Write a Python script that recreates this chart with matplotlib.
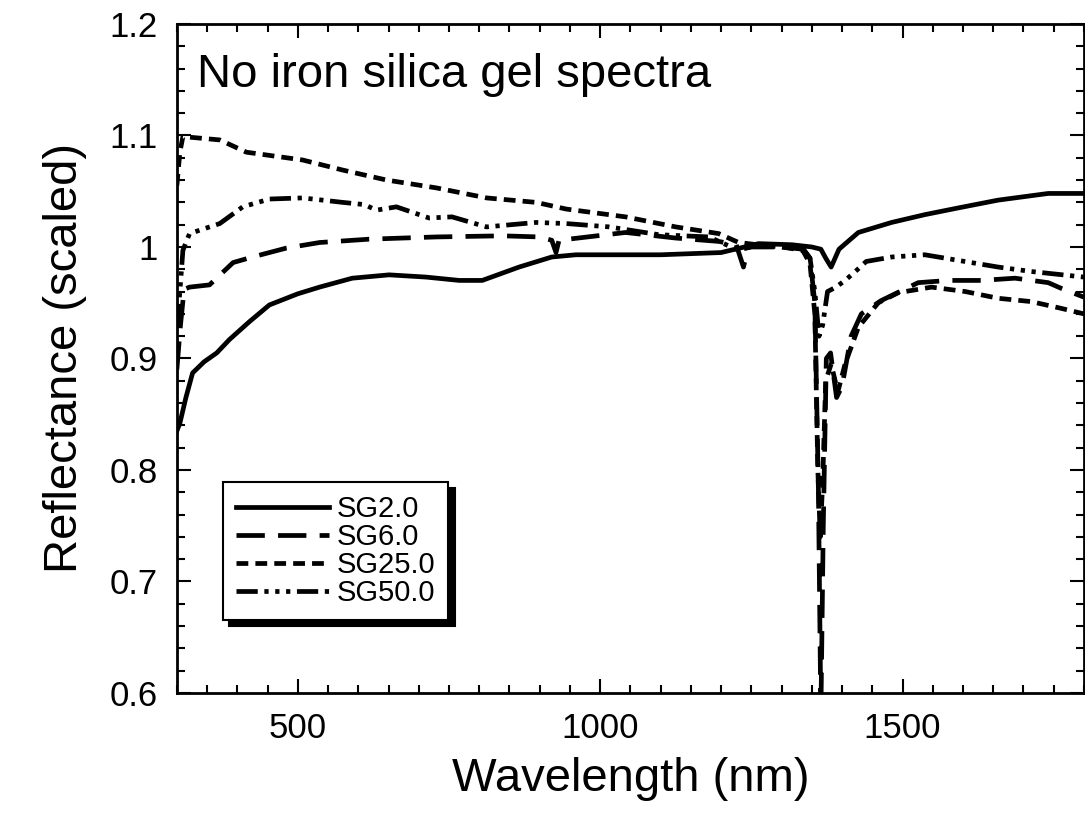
import matplotlib
matplotlib.use('Agg')
import matplotlib.pyplot as plt
from matplotlib.ticker import MultipleLocator

plt.rcParams['font.family'] = ['Liberation Sans', 'DejaVu Sans']

# spectra (wavelength nm, reflectance scaled)
wl_sg2 = [300, 305, 315, 326, 345, 366, 387, 420, 453, 500, 536, 590, 651, 712, 767, 805,
          866, 920, 960, 1000, 1100, 1200, 1262, 1317, 1350, 1365, 1373, 1382, 1395, 1427,
          1482, 1537, 1592, 1658, 1741, 1800]
r_sg2 = [0.835, 0.842, 0.865, 0.887, 0.897, 0.905, 0.917, 0.933, 0.948, 0.958, 0.964, 0.972, 0.975,
         0.973, 0.970, 0.970, 0.982, 0.991, 0.993, 0.993, 0.993, 0.995, 1.003, 1.002, 1.0, 0.998,
         0.99, 0.982, 0.998, 1.013, 1.022, 1.029, 1.035, 1.042, 1.048, 1.048]

wl_sg6 = [300, 306, 312, 321, 354, 393, 425, 481, 536, 618, 729, 838, 900, 920, 927, 932,
          1042, 1125, 1196, 1225, 1237, 1245, 1300, 1335, 1347, 1355, 1361, 1365, 1369, 1374,
          1381, 1391, 1400, 1415, 1432, 1465, 1526, 1576, 1630, 1686, 1741, 1762, 1800]
r_sg6 = [0.89, 0.93, 0.962, 0.964, 0.966, 0.986, 0.991, 0.999, 1.004, 1.007, 1.009, 1.01,
         1.009, 1.006, 0.995, 1.006, 1.013, 1.008, 1.005, 1.002, 0.982, 1.0, 1.0, 0.998, 0.99,
         0.95, 0.78, 0.58, 0.75, 0.9, 0.905, 0.865, 0.875, 0.92, 0.94, 0.952, 0.968, 0.97, 0.97,
         0.972, 0.968, 0.963, 0.955]

wl_sg25 = [300, 305, 310, 371, 415, 508, 574, 647, 729, 812, 894, 944, 1042, 1125, 1196,
           1229, 1260, 1300, 1335, 1347, 1355, 1360, 1364, 1368, 1373, 1382, 1393, 1405, 1427,
           1460, 1493, 1548, 1604, 1658, 1713, 1762, 1800]
r_sg25 = [1.055, 1.085, 1.099, 1.096, 1.085, 1.078, 1.069, 1.06, 1.053, 1.044, 1.04, 1.034,
          1.027, 1.018, 1.012, 1.004, 1.002, 1.0, 0.997, 0.985, 0.94, 0.8, 0.74, 0.79, 0.88,
          0.895, 0.87, 0.895, 0.928, 0.95, 0.959, 0.964, 0.96, 0.954, 0.951, 0.945, 0.94]

wl_sg50 = [300, 305, 310, 321, 371, 409, 453, 508, 574, 610, 630, 663, 717, 755, 812, 894,
           944, 1015, 1097, 1180, 1229, 1262, 1300, 1335, 1347, 1355, 1362, 1368, 1376, 1390,
           1405, 1420, 1440, 1482, 1537, 1592, 1658, 1713, 1800]
r_sg50 = [0.93, 0.96, 0.997, 1.012, 1.021, 1.036, 1.043, 1.044, 1.04, 1.038, 1.033, 1.036,
          1.026, 1.027, 1.018, 1.022, 1.021, 1.018, 1.011, 1.009, 0.997, 1.002, 1.0, 0.999,
          0.99, 0.96, 0.92, 0.93, 0.96, 0.964, 0.97, 0.977, 0.987, 0.991, 0.993, 0.988, 0.982,
          0.978, 0.973]

labels = ['SG2.0', 'SG6.0', 'SG25.0', 'SG50.0']

fig = plt.figure(figsize=(10.85, 8.15), dpi=100)
ax = fig.add_axes([0.163, 0.1497, 0.836, 0.8209])

lw = 3.4
ax.plot(wl_sg2, r_sg2, color='k', lw=lw, ls='-', label=labels[0])
ax.plot(wl_sg6, r_sg6, color='k', lw=lw, ls=(0, (6, 2.8)), label=labels[1])
ax.plot(wl_sg25, r_sg25, color='k', lw=lw, ls=(0, (2.5, 1.5)), label=labels[2])
ax.plot(wl_sg50, r_sg50, color='k', lw=lw, ls=(0, (4.5, 1.4, 0.9, 1.4, 0.9, 1.4, 0.9, 1.4)), label=labels[3])

ax.set_xlim(300, 1800)
ax.set_ylim(0.6, 1.2)
ax.xaxis.set_major_locator(MultipleLocator(500))
ax.xaxis.set_minor_locator(MultipleLocator(50))
ax.yaxis.set_major_locator(MultipleLocator(0.1))
ax.yaxis.set_minor_locator(MultipleLocator(0.02))
ax.set_yticks([0.6, 0.7, 0.8, 0.9, 1.0, 1.1, 1.2], ['0.6', '0.7', '0.8', '0.9', '1', '1.1', '1.2'])
ax.tick_params(which='both', direction='in', top=True, right=True, width=1.5, labelsize=25)
ax.tick_params(which='major', length=10, pad=14)
ax.tick_params(which='minor', length=6)
for s in ax.spines.values():
    s.set_linewidth(2)

ax.set_xlabel('Wavelength (nm)', fontsize=34, labelpad=8)
ax.set_ylabel('Reflectance (scaled)', fontsize=34, labelpad=16)

ax.text(0.022, 1.1435, 'No iron silica gel spectra', transform=ax.get_yaxis_transform(),
        fontsize=34, ha='left', va='baseline')

leg = ax.legend(loc='upper left', bbox_to_anchor=(0.0507, 0.3154), borderaxespad=0,
                fontsize=21, handlelength=3.2, handletextpad=0.25, labelspacing=0.0,
                borderpad=0.45, fancybox=False, framealpha=1, edgecolor='k',
                shadow={'ox': 4.5, 'oy': -4.5, 'facecolor': 'k', 'edgecolor': 'k', 'alpha': 1})
leg.get_frame().set_linewidth(1.5)

fig.savefig('out.png', dpi=100)
